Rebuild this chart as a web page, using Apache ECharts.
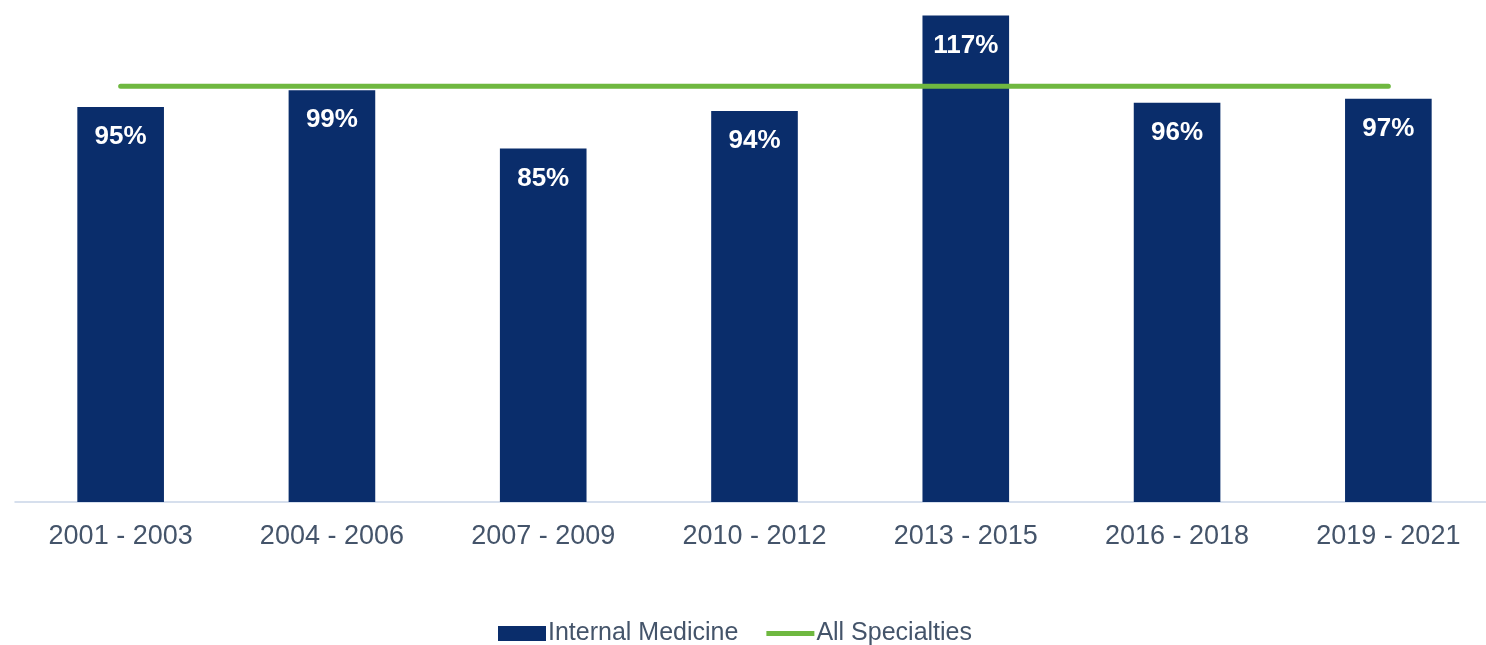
<!DOCTYPE html>
<html>
<head>
<meta charset="utf-8">
<script src="https://cdn.jsdelivr.net/npm/echarts@6/dist/echarts.min.js"></script>
<style>
  html, body { margin: 0; padding: 0; background: #ffffff; }
  #chart { width: 1486px; height: 645px; }
</style>
</head>
<body>
<div id="chart"></div>
<script>
// Fill rate by period: Internal Medicine vs. All Specialties (percent)
const periods = ['2001 - 2003', '2004 - 2006', '2007 - 2009', '2010 - 2012', '2013 - 2015', '2016 - 2018', '2019 - 2021'];
const internalMedicine = [95, 99, 85, 94, 117, 96, 97];
const allSpecialties = [100, 100, 100, 100, 100, 100, 100];

const FONT = '"Liberation Sans", Arial, sans-serif';
const chart = echarts.init(document.getElementById('chart'));

chart.setOption({
  backgroundColor: '#ffffff',
  animation: false,
  grid: { left: 15, width: 1479, top: 3, bottom: 143, containLabel: false, outerBoundsMode: 'none' },
  legend: {
    top: 616,
    left: 493,
    itemWidth: 48,
    itemHeight: 15,
    itemGap: 28,
    textStyle: { color: '#44546a', fontSize: 25, fontFamily: FONT, padding: [0, 0, 0, -3] },
    data: [
      { name: 'Internal Medicine', icon: 'rect' },
      { name: 'All Specialties', icon: 'path://M0,0 H50 V5 H0 Z' }
    ]
  },
  xAxis: {
    type: 'category',
    data: periods,
    axisLine: { lineStyle: { color: '#c9d5e8', width: 1.5 } },
    axisTick: { show: false },
    axisLabel: { color: '#44546a', fontSize: 27, fontFamily: FONT, margin: 21 }
  },
  yAxis: {
    type: 'value',
    min: 0,
    max: 120,
    show: false,
    splitLine: { show: false }
  },
  series: [
    {
      name: 'Internal Medicine',
      type: 'bar',
      data: internalMedicine,
      barWidth: '41%',
      itemStyle: { color: '#0a2d6b' },
      label: {
        show: true,
        position: 'insideTop',
        distance: 17,
        color: '#ffffff',
        fontSize: 26,
        fontWeight: 'bold',
        fontFamily: FONT,
        formatter: (p) => p.value + '%'
      }
    },
    {
      name: 'All Specialties',
      type: 'line',
      data: allSpecialties,
      symbol: 'none',
      lineStyle: { color: '#6fb840', width: 5, cap: 'round' },
      itemStyle: { color: '#6fb840' },
      z: 5
    }
  ]
});
</script>
</body>
</html>
